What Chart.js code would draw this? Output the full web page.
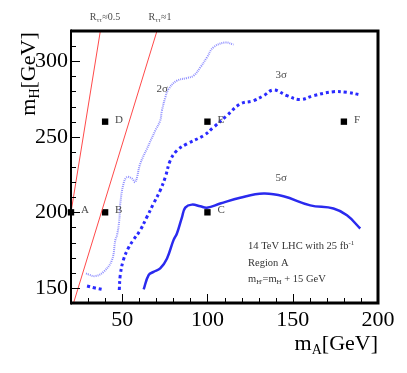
<!DOCTYPE html>
<html><head><meta charset="utf-8">
<script src="https://cdn.jsdelivr.net/npm/chart.js@4/dist/chart.umd.min.js"></script>
<style>html,body{margin:0;padding:0;background:#fff}</style>
</head><body>
<canvas id="c" width="407" height="373"></canvas>
<script>
// ---- data ----
const sigma2X = [28.8,30.3,34.2,39.1,44.0,46.0,47.0,48.3,48.9,50.8,52.8,55.8,57.7,60.6,64.5,69.4,72.3,73.3,75.3,77.2,82.1,88.0,91.9,95.8,99.7,103.4,110.4,115.3];
const sigma2Y = [159.6,158.9,157.8,160.6,168.4,181.6,184.9,194.7,205.8,219.0,223.3,222.3,220.0,232.2,242.0,254.1,260.7,267.3,276.1,281.6,287.1,288.9,290.4,295.9,302.5,309.1,312.4,311.0];
const sigma3X = [48.3,48.9,50.7,53.6,56.5,60.6,64.5,68.4,72.3,75.3,78.2,82.1,88.0,97.7,103.6,111.4,119.2,127.0,132.9,138.8,146.6,154.4,162.2,173.9,181.8,189.6];
const sigma3Y = [148.6,158.5,168.4,176.3,181.6,188.2,196.9,205.8,214.5,223.3,234.3,240.9,245.3,250.8,256.3,264.0,271.7,273.9,277.2,281.0,277.2,274.6,277.2,279.8,279.4,277.7];
const sigma3bX = [29.4,34.2,38.2];
const sigma3bY = [151.2,149.9,149.0];
const sigma5X = [62.6,65.5,68.4,72.3,76.3,80.1,82.1,85.1,87.0,90.9,95.8,99.7,107.5,119.2,132.9,144.6,160.3,173.9,181.8,189.6];
const sigma5Y = [149.0,158.5,160.6,162.9,169.5,181.6,186.0,196.9,203.1,205.1,204.0,203.1,205.8,209.7,212.4,210.6,204.6,202.5,198.0,189.3];
const rHalfX = [20,37.2];
const rHalfY = [200,320];
const rOneX = [21.5,70.4];
const rOneY = [140,320];
const pointNames = ['A','B','C','D','E','F'];
const pointX = [20,40,100,40,100,180];
const pointY = [200,200,200,260,260,260];
const sigmaLabels = ['2σ','3σ','5σ'];
const sigmaLabelX = [73.5,143.3,143.3];
const sigmaLabelY = [282.5,291.7,223.1];
const xTickStep = 10, yTickStep = 10, labelStep = 50;

const pts = (xs, ys) => xs.map((x, i) => ({x, y: ys[i]}));
const SERIF = '"Liberation Serif","DejaVu Serif",serif';

function drawRich(ctx, parts, x, y, align) {
  let w = 0;
  parts.forEach(p => { ctx.font = p.size + 'px ' + SERIF; w += ctx.measureText(p.t).width; });
  let cx = align === 'right' ? x - w : align === 'center' ? x - w / 2 : x;
  ctx.textAlign = 'left';
  parts.forEach(p => {
    ctx.font = p.size + 'px ' + SERIF;
    ctx.fillText(p.t, cx, y + (p.dy || 0));
    cx += ctx.measureText(p.t).width;
  });
}

const decor = {
  id: 'decor',
  afterDraw(chart) {
    const ctx = chart.ctx, a = chart.chartArea;
    const xs = chart.scales.x, ys = chart.scales.y;
    ctx.save();
    // ticks inside
    ctx.strokeStyle = '#000'; ctx.lineWidth = 1;
    for (let v = xs.min; v <= xs.max; v += xTickStep) {
      const px = Math.round(xs.getPixelForValue(v)) + 0.5;
      const len = v % labelStep === 0 ? 9 : 5;
      ctx.beginPath(); ctx.moveTo(px, a.bottom); ctx.lineTo(px, a.bottom - len); ctx.stroke();
    }
    for (let v = ys.min; v <= ys.max; v += yTickStep) {
      const py = Math.round(ys.getPixelForValue(v)) + 0.5;
      const len = v % labelStep === 0 ? 9 : 5;
      ctx.beginPath(); ctx.moveTo(a.left, py); ctx.lineTo(a.left + len, py); ctx.stroke();
    }
    // frame
    ctx.lineWidth = 3;
    ctx.beginPath();
    ctx.moveTo(a.left, a.top); ctx.lineTo(a.right, a.top); ctx.lineTo(a.right, a.bottom); ctx.lineTo(a.left, a.bottom);
    ctx.stroke();
    ctx.lineWidth = 2;
    ctx.beginPath(); ctx.moveTo(a.left, a.top - 1.5); ctx.lineTo(a.left, a.bottom + 1.5); ctx.stroke();
    // point labels
    ctx.fillStyle = '#4a4a4a'; ctx.textBaseline = 'alphabetic';
    pointNames.forEach((n, i) => {
      drawRich(ctx, [{t: n, size: 11}], xs.getPixelForValue(pointX[i]) + 10, ys.getPixelForValue(pointY[i]) + 1, 'left');
    });
    sigmaLabels.forEach((n, i) => {
      drawRich(ctx, [{t: n, size: 11}], xs.getPixelForValue(sigmaLabelX[i]), ys.getPixelForValue(sigmaLabelY[i]) + 4, 'center');
    });
    // R labels above plot
    drawRich(ctx, [{t: 'R', size: 10}, {t: 'ττ', size: 7, dy: 2}, {t: '≈0.5', size: 10}], 105, 20, 'center');
    drawRich(ctx, [{t: 'R', size: 10}, {t: 'ττ', size: 7, dy: 2}, {t: '≈1', size: 10}], 160, 20, 'center');
    // info text
    ctx.fillStyle = '#333';
    drawRich(ctx, [{t: '14 TeV LHC with 25 fb', size: 10.5}, {t: '-1', size: 7, dy: -4}], 248, 249, 'left');
    drawRich(ctx, [{t: 'Region A', size: 10.5}], 248, 266, 'left');
    drawRich(ctx, [{t: 'm', size: 10.5}, {t: "H'", size: 7, dy: 2}, {t: '=m', size: 10.5}, {t: 'H', size: 7, dy: 2}, {t: ' + 15 GeV', size: 10.5}], 248, 282, 'left');
    // axis titles
    ctx.fillStyle = '#000';
    drawRich(ctx, [{t: 'm', size: 22}, {t: 'A', size: 14, dy: 4}, {t: '[GeV]', size: 22}], 378, 350, 'right');
    ctx.translate(35, 74); ctx.rotate(-Math.PI / 2);
    drawRich(ctx, [{t: 'm', size: 22}, {t: 'H', size: 14, dy: 4}, {t: '[GeV]', size: 22}], 0, 0, 'center');
    ctx.restore();
  }
};

new Chart(document.getElementById('c'), {
  type: 'scatter',
  data: {
    datasets: [
      {data: pts(rHalfX, rHalfY), showLine: true, borderColor: '#ff4a4a', borderWidth: 1, pointRadius: 0},
      {data: pts(rOneX, rOneY), showLine: true, borderColor: '#ff4a4a', borderWidth: 1, pointRadius: 0},
      {data: pts(sigma2X, sigma2Y), showLine: true, borderColor: '#9090ff', borderWidth: 2, borderDash: [1, 1], pointRadius: 0, tension: 0.4},
      {data: pts(sigma3X, sigma3Y), showLine: true, borderColor: '#2a2aff', borderWidth: 3, borderDash: [3, 3], pointRadius: 0, tension: 0.4},
      {data: pts(sigma3bX, sigma3bY), showLine: true, borderColor: '#2a2aff', borderWidth: 3, borderDash: [3, 3], pointRadius: 0, tension: 0.4},
      {data: pts(sigma5X, sigma5Y), showLine: true, borderColor: '#2a2aee', borderWidth: 2.5, pointRadius: 0, tension: 0.4},
      {data: pts(pointX, pointY), showLine: false, pointStyle: 'rect', pointRadius: 4.5, backgroundColor: '#000', borderColor: '#000', borderWidth: 0, clip: false}
    ]
  },
  options: {
    responsive: false, animation: false, devicePixelRatio: 1,
    layout: {padding: {left: 0, top: 31, right: 29, bottom: 0}},
    plugins: {legend: {display: false}, tooltip: {enabled: false}},
    scales: {
      x: {
        type: 'linear', min: 20, max: 200,
        grid: {display: false, drawTicks: false}, border: {display: false},
        ticks: {stepSize: xTickStep, autoSkip: false, maxRotation: 0, padding: 4, color: '#000',
          font: {family: SERIF, size: 22},
          callback: v => (v % labelStep === 0 ? String(v) : '')},
        afterFit: s => { s.height = 70; }
      },
      y: {
        type: 'linear', min: 140, max: 320,
        grid: {display: false, drawTicks: false}, border: {display: false},
        ticks: {stepSize: yTickStep, autoSkip: false, padding: 3, color: '#000',
          font: {family: SERIF, size: 22},
          callback: v => (v % labelStep === 0 ? String(v) : '')},
        afterFit: s => { s.width = 71; }
      }
    }
  },
  plugins: [decor]
});
</script>
</body></html>
